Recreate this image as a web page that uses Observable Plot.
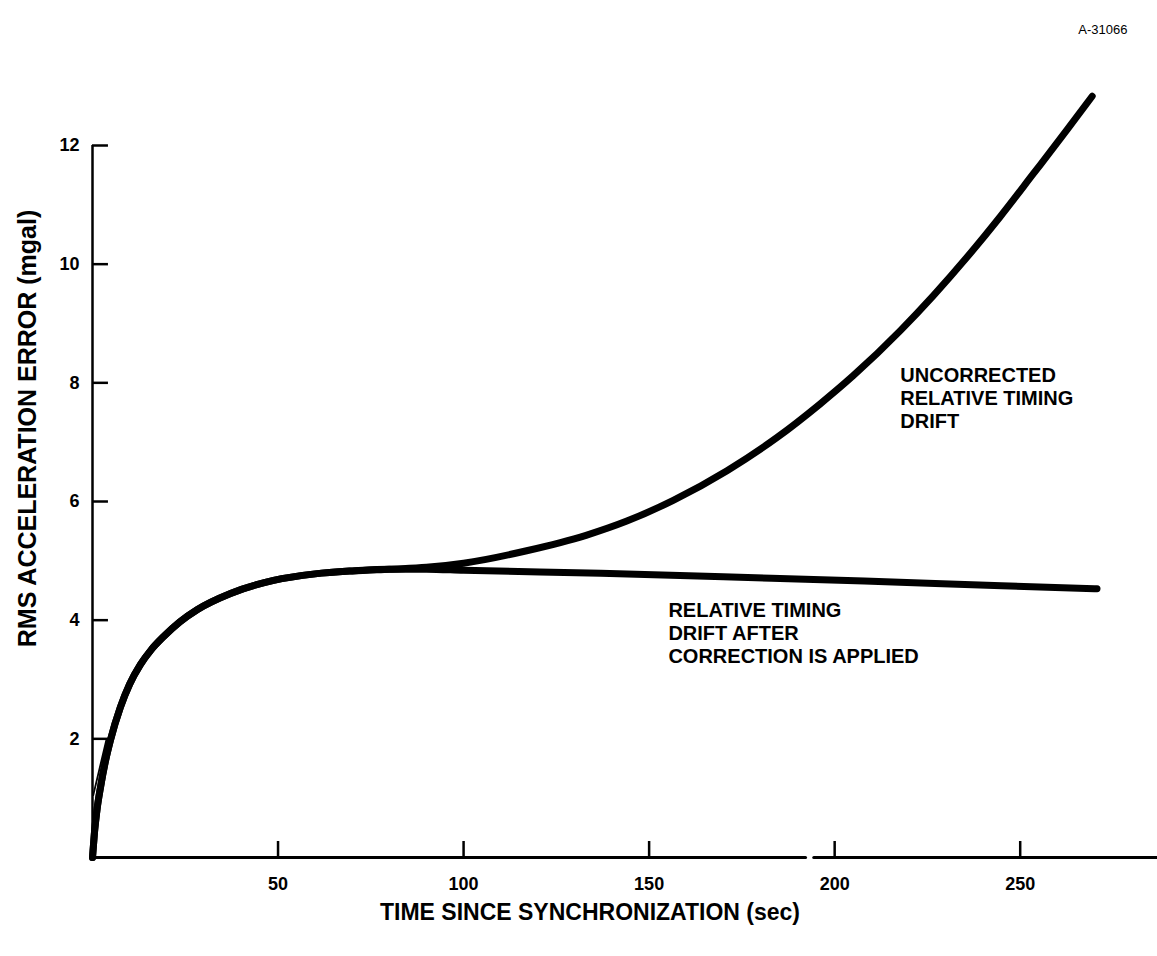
<!DOCTYPE html>
<html>
<head>
<meta charset="utf-8">
<script src="https://cdn.jsdelivr.net/npm/d3@7"></script>
<script src="https://cdn.jsdelivr.net/npm/@observablehq/plot@0.6"></script>
<style>
  html, body { margin: 0; padding: 0; background: #fff; }
  #chart svg { display: block; }
</style>
</head>
<body>
<div id="chart"></div>
<script>
// ---- Data ----
const xTicks = [50, 100, 150, 200, 250];
const xTickLabels = ["50", "100", "150", "200", "250"];
const yTicks = [2, 4, 6, 8, 10, 12];
const yTickLabels = ["2", "4", "6", "8", "10", "12"];
const xAxisBreak = [192.3, 194.5];   // gap drawn in the time axis
const xAxisEnd = 287;

// Uncorrected relative timing drift (sec, mgal)
const tUncorrected = [0, 0.5, 1.2, 2.2, 3.4, 4.8, 7.5, 10, 12.9, 15.8, 19.1, 23.5, 28.3, 37.2, 48.8, 60, 70, 80, 90, 100, 117, 133, 144, 156.5, 171, 184.5, 196, 205, 217.7, 226.6, 235.7, 244.6, 253.5, 262.7, 269.4];
const rmsUncorrected = [0, 0.4, 0.8, 1.2, 1.6, 1.97, 2.53, 2.92, 3.25, 3.50, 3.72, 3.97, 4.18, 4.45, 4.67, 4.78, 4.83, 4.86, 4.89, 4.96, 5.17, 5.43, 5.67, 6.02, 6.52, 7.08, 7.64, 8.12, 8.88, 9.47, 10.12, 10.80, 11.52, 12.27, 12.83];

// Relative timing drift after correction is applied
const tCorrected = [0, 0.5, 1.2, 2.2, 3.4, 4.8, 7.5, 10, 12.9, 15.8, 19.1, 23.5, 28.3, 37.2, 48.8, 60, 70, 80, 90, 100, 137, 170, 208, 245, 270.7];
const rmsCorrected = [0, 0.4, 0.8, 1.2, 1.6, 1.97, 2.53, 2.92, 3.25, 3.50, 3.72, 3.97, 4.18, 4.45, 4.67, 4.78, 4.83, 4.86, 4.86, 4.84, 4.79, 4.73, 4.66, 4.58, 4.53];

// thin construction stroke near the origin
const tThin = [0.2, 3.8];
const rmsThin = [1.05, 2.0];

const xTitle = "TIME SINCE SYNCHRONIZATION (sec)";
const yTitle = "RMS ACCELERATION ERROR (mgal)";
const labelUncorrected = "UNCORRECTED\nRELATIVE TIMING\nDRIFT";
const labelCorrected = "RELATIVE TIMING\nDRIFT AFTER\nCORRECTION IS APPLIED";
const figureId = "A-31066";

// ---- Build tables ----
const upper = tUncorrected.map((t, i) => ({t, v: rmsUncorrected[i]}));
const lower = tCorrected.map((t, i) => ({t, v: rmsCorrected[i]}));
const thin = tThin.map((t, i) => ({t, v: rmsThin[i]}));
const axisSegs = [{x1: 0, x2: xAxisBreak[0]}, {x1: xAxisBreak[1], x2: xAxisEnd}];
const xt = xTicks.map((x, i) => ({x, label: xTickLabels[i]}));
const yt = yTicks.map((y, i) => ({y, label: yTickLabels[i]}));

const font = "'Liberation Sans', Arial, Helvetica, sans-serif";

const chart = Plot.plot({
  width: 1157,
  height: 956,
  marginLeft: 92,
  marginRight: 0,
  marginTop: 145,
  marginBottom: 99,
  x: {domain: [0, xAxisEnd], axis: null},
  y: {domain: [0, 12], axis: null},
  style: {fontFamily: font, background: "#fff", color: "#000"},
  marks: [
    // axes lines
    Plot.ruleY(axisSegs, {y: 0, x1: "x1", x2: "x2", stroke: "#000", strokeWidth: 3, strokeLinecap: "round"}),
    Plot.ruleX([0], {x: d => d, y1: 0, y2: 12, stroke: "#000", strokeWidth: 2.5}),
    // inward ticks
    Plot.ruleY(yt, {y: "y", x1: 0, x2: 4.3, stroke: "#000", strokeWidth: 2.5}),
    Plot.ruleX(xt, {x: "x", y1: 0, y2: 0.27, stroke: "#000", strokeWidth: 2.5}),
    // tick labels
    Plot.text(xt, {x: "x", y: 0, text: "label", dy: 27, fontSize: 18, fontWeight: "bold", fill: "#000"}),
    Plot.text(yt, {x: 0, y: "y", text: "label", dx: -13, textAnchor: "end", fontSize: 18, fontWeight: "bold", fill: "#000"}),
    // curves
    Plot.line(thin, {x: "t", y: "v", stroke: "#000", strokeWidth: 1.8}),
    Plot.line(lower, {x: "t", y: "v", stroke: "#000", strokeWidth: 7, curve: "monotone-x", strokeLinecap: "round", strokeLinejoin: "round"}),
    Plot.line(upper, {x: "t", y: "v", stroke: "#000", strokeWidth: 7, curve: "monotone-x", strokeLinecap: "round", strokeLinejoin: "round"}),
    // annotations
    Plot.text([labelUncorrected], {x: 217.7, y: 8.29, text: d => d, textAnchor: "start", lineAnchor: "top", lineHeight: 1.15, fontSize: 20, fontWeight: "bold", fill: "#000", ariaLabel: "annotation"}),
    Plot.text([labelCorrected], {x: 155.2, y: 4.33, text: d => d, textAnchor: "start", lineAnchor: "top", lineHeight: 1.15, fontSize: 20, fontWeight: "bold", fill: "#000", ariaLabel: "annotation"}),
    // axis titles
    Plot.text([xTitle], {frameAnchor: "bottom", textAnchor: "middle", dx: -35, dy: 62, text: d => d, fontSize: 23, fontWeight: "bold", fill: "#000"}),
    Plot.text([yTitle], {frameAnchor: "left", textAnchor: "middle", dx: -65, dy: -73, rotate: -90, text: d => d, fontSize: 25, fontWeight: "bold", fill: "#000", ariaLabel: "ytitle"}),
    // figure id
    Plot.text([figureId], {frameAnchor: "top-right", dx: -30, dy: -121, textAnchor: "end", text: d => d, fontSize: 13, fill: "#000"})
  ]
});

d3.select(chart).selectAll('g[aria-label="annotation"] text').style("letter-spacing", "1.3px");
d3.select(chart).selectAll('g[aria-label="ytitle"] text').style("letter-spacing", "1.2px");

document.getElementById("chart").appendChild(chart);
</script>
</body>
</html>
